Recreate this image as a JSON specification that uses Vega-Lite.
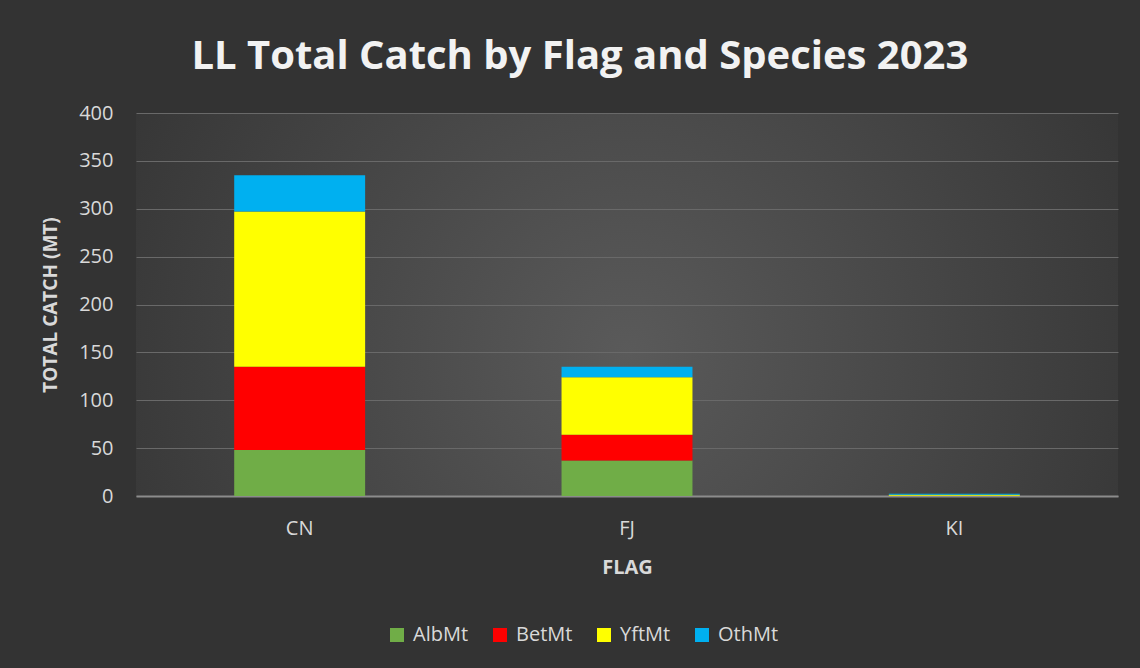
{
  "$schema": "https://vega.github.io/schema/vega-lite/v6.json",
  "width": 1140,
  "height": 668,
  "autosize": {"type": "fit", "contains": "padding"},
  "padding": {"left": 41, "top": 37, "right": 22, "bottom": 91},
  "background": "#333333",
  "title": {
    "text": "LL Total Catch by Flag and Species 2023",
    "frame": "bounds",
    "anchor": "middle",
    "font": "Open Sans",
    "fontSize": 40,
    "fontWeight": "bold",
    "color": "#f2f2f2",
    "offset": 26,
    "limit": 0
  },
  "config": {
    "view": {
      "stroke": null,
      "fill": {
        "gradient": "radial",
        "x1": 0.5, "y1": 0.55, "r1": 0,
        "x2": 0.5, "y2": 0.55, "r2": 0.62,
        "stops": [
          {"offset": 0, "color": "#5a5a5a"},
          {"offset": 1, "color": "#333333"}
        ]
      }
    },
    "font": "Open Sans"
  },
  "data": {
    "values": [
      {"flag": "CN", "species": "AlbMt", "catch": 48, "ord": 1},
      {"flag": "CN", "species": "BetMt", "catch": 87, "ord": 2},
      {"flag": "CN", "species": "YftMt", "catch": 162, "ord": 3},
      {"flag": "CN", "species": "OthMt", "catch": 38, "ord": 4},
      {"flag": "FJ", "species": "AlbMt", "catch": 37, "ord": 1},
      {"flag": "FJ", "species": "BetMt", "catch": 27, "ord": 2},
      {"flag": "FJ", "species": "YftMt", "catch": 60, "ord": 3},
      {"flag": "FJ", "species": "OthMt", "catch": 11, "ord": 4},
      {"flag": "KI", "species": "AlbMt", "catch": 0.2, "ord": 1},
      {"flag": "KI", "species": "BetMt", "catch": 0.1, "ord": 2},
      {"flag": "KI", "species": "YftMt", "catch": 1.0, "ord": 3},
      {"flag": "KI", "species": "OthMt", "catch": 1.0, "ord": 4}
    ]
  },
  "mark": {"type": "bar"},
  "encoding": {
    "x": {
      "field": "flag",
      "type": "nominal",
      "scale": {"paddingInner": 0.6, "paddingOuter": 0.3},
      "axis": {
        "title": "FLAG",
        "titleFont": "Open Sans",
        "titleFontSize": 20,
        "titleFontWeight": "bold",
        "titleColor": "#d9d9d9",
        "titlePadding": 19,
        "labelAngle": 0,
        "labelFont": "Open Sans",
        "labelFontSize": 20,
        "labelColor": "#d9d9d9",
        "labelPadding": 22,
        "ticks": false,
        "domainColor": "#8c8c8c",
        "domainWidth": 2
      }
    },
    "y": {
      "field": "catch",
      "type": "quantitative",
      "stack": "zero",
      "scale": {"domain": [0, 400]},
      "axis": {
        "title": "TOTAL CATCH (MT)",
        "titleFont": "Open Sans",
        "titleFontSize": 19,
        "titleFontWeight": "bold",
        "titleColor": "#d9d9d9",
        "titlePadding": 18,
        "values": [0, 50, 100, 150, 200, 250, 300, 350, 400],
        "labelFont": "Open Sans",
        "labelFontSize": 20,
        "labelColor": "#d9d9d9",
        "labelPadding": 23,
        "ticks": false,
        "domain": false,
        "gridColor": "#696969",
        "gridWidth": 1
      }
    },
    "color": {
      "field": "species",
      "type": "nominal",
      "scale": {
        "domain": ["AlbMt", "BetMt", "YftMt", "OthMt"],
        "range": ["#70ad47", "#ff0000", "#ffff00", "#00b0f0"]
      },
      "legend": {
        "title": null,
        "orient": "none",
        "legendX": 251,
        "legendY": 512,
        "direction": "horizontal",
        "symbolType": "square",
        "symbolSize": 196,
        "symbolStrokeWidth": 0,
        "labelOffset": 6,
        "labelFont": "Open Sans",
        "labelFontSize": 20,
        "labelColor": "#d9d9d9",
        "columnPadding": 21
      }
    },
    "order": {"field": "ord", "type": "quantitative"}
  }
}
